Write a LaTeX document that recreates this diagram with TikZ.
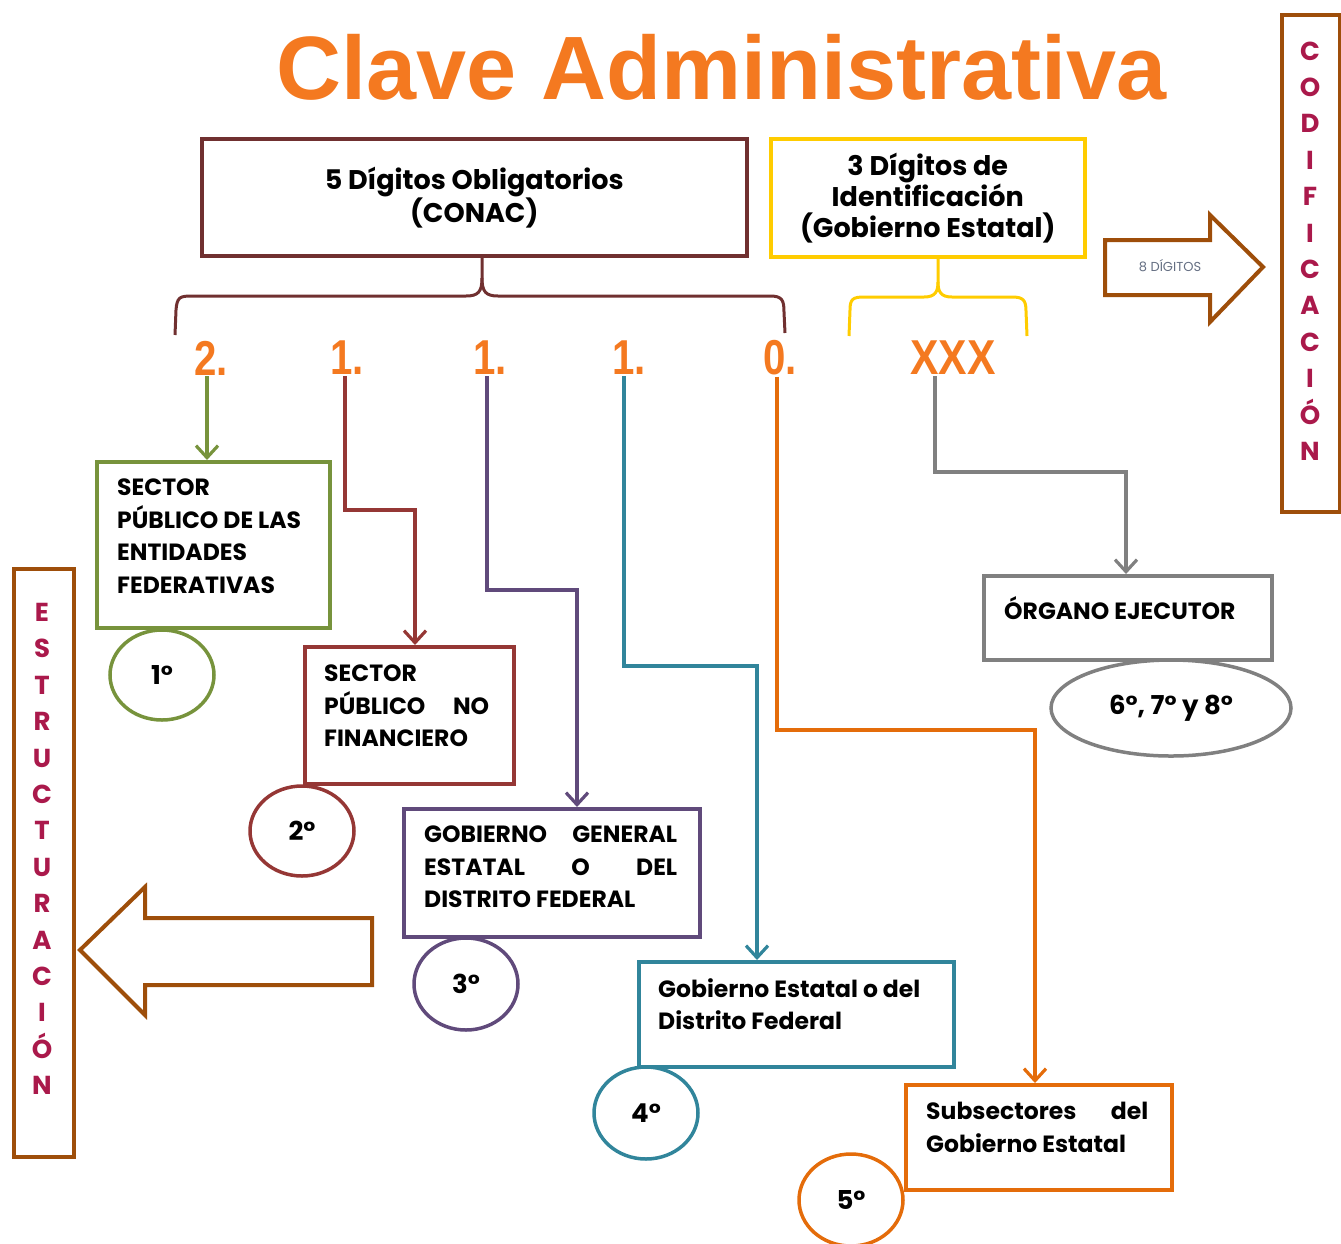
\documentclass[tikz,border=0pt]{standalone}
\usepackage{fontspec}
\setmainfont{Poppins}
\newfontfamily\titlefont{Liberation Sans}
\usetikzlibrary{arrows.meta,shapes.geometric}
\definecolor{maroonbox}{RGB}{112,48,48}
\definecolor{goldbox}{RGB}{255,204,0}
\definecolor{titleor}{RGB}{244,121,32}
\definecolor{grn}{RGB}{119,147,60}
\definecolor{redb}{RGB}{149,55,53}
\definecolor{purp}{RGB}{96,74,123}
\definecolor{tealb}{RGB}{49,133,155}
\definecolor{orng}{RGB}{228,108,10}
\definecolor{gry}{RGB}{128,128,128}
\definecolor{brwn}{RGB}{158,78,10}
\definecolor{crim}{RGB}{170,25,75}
\definecolor{dgtxt}{RGB}{100,110,130}
\tikzset{
  boxshape/.style={draw=#1, line width=3.5, rectangle, inner sep=0},
  bodytext/.style={anchor=north west, inner sep=0, align=left, font=\bfseries\fontsize{23.5}{32.5}\selectfont},
  headtext/.style={inner sep=0, align=center, font=\bfseries\fontsize{27}{31}\selectfont},
  ordinal/.style={draw=#1, line width=3.5, ellipse, inner sep=0, font=\bfseries\fontsize{26}{26}\selectfont},
  conn/.style={draw=#1, line width=3.2, -{Straight Barb[length=12, width=22, line width=3.2]}},
  digit/.style={inner sep=1, text=titleor, font=\titlefont\bfseries\fontsize{49}{49}\selectfont},
  vletters/.style={align=center, inner sep=0, text=crim, font=\bfseries\fontsize{26}{36.4}\selectfont},
  blockarrow/.style={draw=brwn, line width=4, line join=miter},
}
\begin{document}
\begin{tikzpicture}[x=1pt,y=-1pt]
\useasboundingbox (0,0) rectangle (1341,1243);
% title
\node[text=titleor, font=\titlefont\bfseries\fontsize{90}{90}\selectfont] (title) at (722,67) {Clave Administrativa};
% top boxes
\node[boxshape=maroonbox, minimum width=545, minimum height=117, anchor=north west] (conac) at (200,137) {};
\node[headtext] (conact) at (conac.center) {5 Dígitos Obligatorios\\(CONAC)};
\node[boxshape=goldbox, minimum width=314, minimum height=118, anchor=north west] (gob) at (769,137) {};
\node[headtext] (gobt) at (gob.center) {3 Dígitos de\\Identificación\\(Gobierno Estatal)};
% braces
\coordinate (bt1) at (482,256);
\coordinate (bt2) at (938,257);
\draw[maroonbox, line width=3] (175,335) -- (176,310) .. controls (177,297) and (180,296) .. (192,296) -- (466,296) .. controls (478,296) and (482,292) .. (482,278) -- (bt1);
\draw[maroonbox, line width=3] (482,278) .. controls (482,292) and (486,296) .. (498,296) -- (770,296) .. controls (782,296) and (784,300) .. (784,312) -- (785,333);
\draw[goldbox, line width=3] (849,336) -- (850,310) .. controls (850,299) and (853,297) .. (864,297) -- (924,297) .. controls (935,297) and (938,292) .. (938,282) -- (bt2);
\draw[goldbox, line width=3] (938,282) .. controls (938,292) and (941,297) .. (952,297) -- (1012,297) .. controls (1023,297) and (1026,300) .. (1026,311) -- (1027,336);
% digits
\node[digit] (d1) at (211,358) {\scalebox{0.82}[1]{2.}};
\node[digit] (d2) at (347,358) {\scalebox{0.82}[1]{1.}};
\node[digit] (d3) at (490,358) {\scalebox{0.82}[1]{1.}};
\node[digit] (d4) at (629,358) {\scalebox{0.82}[1]{1.}};
\node[digit] (d5) at (780,358) {\scalebox{0.82}[1]{0.}};
\node[digit] (d6) at (953,358) {\scalebox{0.87}[1]{XXX}};
\coordinate (x1) at (207,0);
\coordinate (x2) at (345,0);
\coordinate (x3) at (487,0);
\coordinate (x4) at (624,0);
\coordinate (x5) at (777,0);
\coordinate (x6) at (935,0);
\coordinate (k2) at (415,510);
\coordinate (k3) at (577,590);
\coordinate (k4) at (757,666);
\coordinate (k5) at (1035,730);
\coordinate (k6) at (1126,472);
% boxes
\node[boxshape=grn, minimum width=233, minimum height=166, anchor=north west] (b1) at (95,460) {};
\node[bodytext] (t1) at (117,479) {SECTOR\\PÚBLICO DE LAS\\ENTIDADES\\FEDERATIVAS};
\node[ordinal=grn, minimum width=104, minimum height=90] (c1) at (162,675) {1°};

\node[boxshape=redb, minimum width=209, minimum height=137, anchor=north west] (b2) at (303,645) {};
\node[bodytext] (t2) at (324,665) {SECTOR\\\hbox to 165pt{PÚBLICO\hfill NO}\\FINANCIERO};
\node[ordinal=redb, minimum width=104, minimum height=90] (c2) at (302,831) {2°};

\node[boxshape=purp, minimum width=296, minimum height=128, anchor=north west] (b3) at (402,807) {};
\node[bodytext] (t3) at (424,826) {\hbox to 253pt{GOBIERNO\hfill GENERAL}\\\hbox to 253pt{ESTATAL\hfill O\hfill DEL}\\DISTRITO FEDERAL};
\node[ordinal=purp, minimum width=104, minimum height=92] (c3) at (466,984) {3°};

\node[boxshape=tealb, minimum width=315, minimum height=105, anchor=north west] (b4) at (637,960) {};
\node[bodytext] (t4) at (658,978) {Gobierno Estatal o del\\Distrito Federal};
\node[ordinal=tealb, minimum width=104, minimum height=92] (c4) at (646,1113) {4°};

\node[boxshape=orng, minimum width=266, minimum height=105, anchor=north west] (b5) at (904,1083) {};
\node[bodytext] (t5) at (926,1102) {\hbox to 222pt{Subsectores\hfill del}\\Gobierno Estatal};
\node[ordinal=orng, minimum width=104, minimum height=92] (c5) at (851,1200) {5°};

\node[boxshape=gry, minimum width=288, minimum height=84, anchor=north west] (b6) at (982,574) {};
\node[bodytext] (t6) at (1004,596) {ÓRGANO EJECUTOR};
\node[ordinal=gry, minimum width=240, minimum height=96] (c6) at (1171,708) {6°, 7° y 8°};
% connectors
\draw[conn=grn] (d1.south -| x1) -- (x1 |- b1.north);
\draw[conn=redb] (d2.south -| x2) |- (k2) -- (k2 |- b2.north);
\draw[conn=purp] (d3.south -| x3) |- (k3) -- (k3 |- b3.north);
\draw[conn=tealb] (d4.south -| x4) |- (k4) -- (k4 |- b4.north);
\draw[conn=orng] (d5.south -| x5) |- (k5) -- (k5 |- b5.north);
\draw[conn=gry] (d6.south -| x6) |- (k6) -- (k6 |- b6.north);
% side boxes
\node[boxshape=brwn, line width=4, minimum width=58, minimum height=497, anchor=north west] (cod) at (1280,13) {};
\node[vletters] (codt) at (1310,251) {C\\O\\D\\I\\F\\I\\C\\A\\C\\I\\Ó\\N};
\node[boxshape=brwn, line width=4, minimum width=60, minimum height=588, anchor=north west] (est) at (12,567) {};
\node[vletters] (estt) at (42,849) {E\\S\\T\\R\\U\\C\\T\\U\\R\\A\\C\\I\\Ó\\N};
% block arrows
\draw[blockarrow] (1105,240) -- (1210,240) -- (1210,215) -- (1263,267) -- (1210,322) -- (1210,295) -- (1105,295) -- cycle;
\node[text=dgtxt, font=\fontsize{13}{13}\selectfont] (ocho) at (1170,266) {8 DÍGITOS};
\draw[blockarrow] (372,918) -- (145,918) -- (145,887) -- (80,950) -- (145,1015) -- (145,985) -- (372,985) -- cycle;
\end{tikzpicture}
\end{document}
